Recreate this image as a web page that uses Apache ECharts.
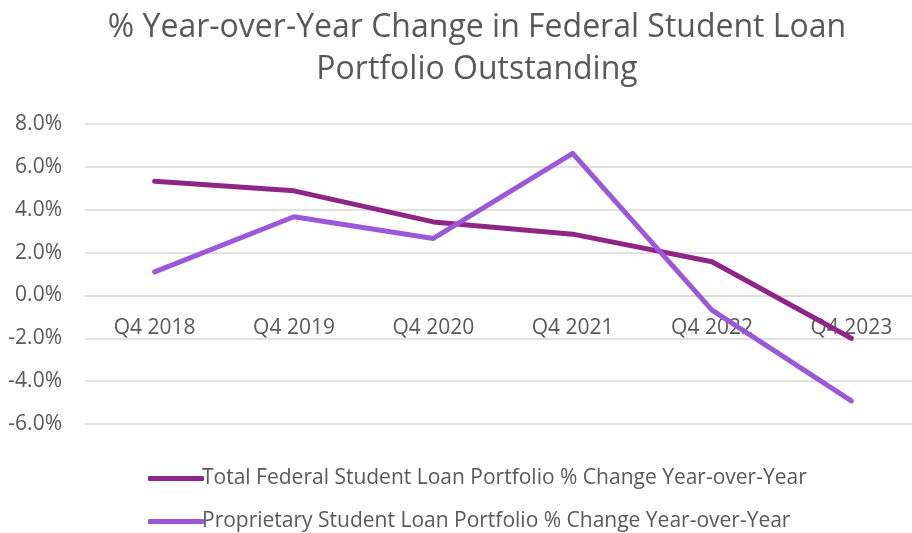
<!DOCTYPE html>
<html>
<head>
<meta charset="utf-8">
<script src="https://cdn.jsdelivr.net/npm/echarts@6/dist/echarts.min.js"></script>
<style>
html,body{margin:0;padding:0;background:#fff;overflow:hidden;width:912px;height:533px;}
#chart{width:922px;height:533px;}
</style>
</head>
<body>
<div id="chart"></div>
<script>
const categories = ['Q4 2018', 'Q4 2019', 'Q4 2020', 'Q4 2021', 'Q4 2022', 'Q4 2023'];
const totalFederal = [5.33, 4.88, 3.43, 2.86, 1.57, -2.0];
const proprietary = [1.10, 3.67, 2.66, 6.63, -0.69, -4.92];
const seriesNames = [
  'Total Federal Student Loan Portfolio % Change Year-over-Year',
  'Proprietary Student Loan Portfolio % Change Year-over-Year'
];
const titleText = '% Year-over-Year Change in Federal Student Loan\nPortfolio Outstanding';
const yMin = -6, yMax = 8, yStep = 2;

const FONT = 'Open Sans';
const TXT = '#595959';
const GRID_H = 300;
const chart = echarts.init(document.getElementById('chart'));
chart.setOption({
  backgroundColor: '#ffffff',
  animation: false,
  title: {
    text: titleText,
    left: 472,
    textAlign: 'center',
    top: 2,
    textStyle: { fontFamily: FONT, fontSize: 32, fontWeight: 'normal', color: TXT, lineHeight: 42 }
  },
  legend: [
    {
      data: [seriesNames[0]], orient: 'vertical', left: 143, top: 463,
      icon: 'roundRect', itemWidth: 56, itemHeight: 5, itemGap: 4,
      textStyle: { fontFamily: FONT, fontSize: 21, color: TXT, padding: [0,0,0,-7] }
    },
    {
      data: [seriesNames[1]], orient: 'vertical', left: 143, top: 506,
      icon: 'roundRect', itemWidth: 56, itemHeight: 5, itemGap: 4,
      textStyle: { fontFamily: FONT, fontSize: 21, color: TXT, padding: [0,0,0,-7] }
    }
  ],
  grid: { left: 85, top: 124, width: 836, height: GRID_H, containLabel: false },
  xAxis: {
    type: 'category',
    data: categories,
    boundaryGap: true,
    offset: -GRID_H * (0 - yMin) / (yMax - yMin),
    axisLine: { show: true, onZero: false, lineStyle: { color: '#d9d9d9', width: 1.5 } },
    axisTick: { show: false },
    axisLabel: { fontFamily: FONT, fontSize: 21, color: TXT, margin: 22, lineHeight: 22 }
  },
  yAxis: {
    type: 'value',
    min: yMin, max: yMax, interval: yStep,
    axisLine: { show: false },
    axisTick: { show: false },
    splitLine: { lineStyle: { color: '#d9d9d9', width: 1.5 } },
    axisLabel: { fontFamily: FONT, fontSize: 21, color: TXT, margin: 23, formatter: v => v.toFixed(1) + '%' }
  },
  series: [
    {
      name: seriesNames[0], type: 'line', data: totalFederal, symbol: 'none',
      lineStyle: { color: '#902588', width: 5, cap: 'round', join: 'round' },
      itemStyle: { color: '#902588' }
    },
    {
      name: seriesNames[1], type: 'line', data: proprietary, symbol: 'none',
      lineStyle: { color: '#9C58D8', width: 5, cap: 'round', join: 'round' },
      itemStyle: { color: '#9C58D8' }
    }
  ]
});
</script>
</body>
</html>
